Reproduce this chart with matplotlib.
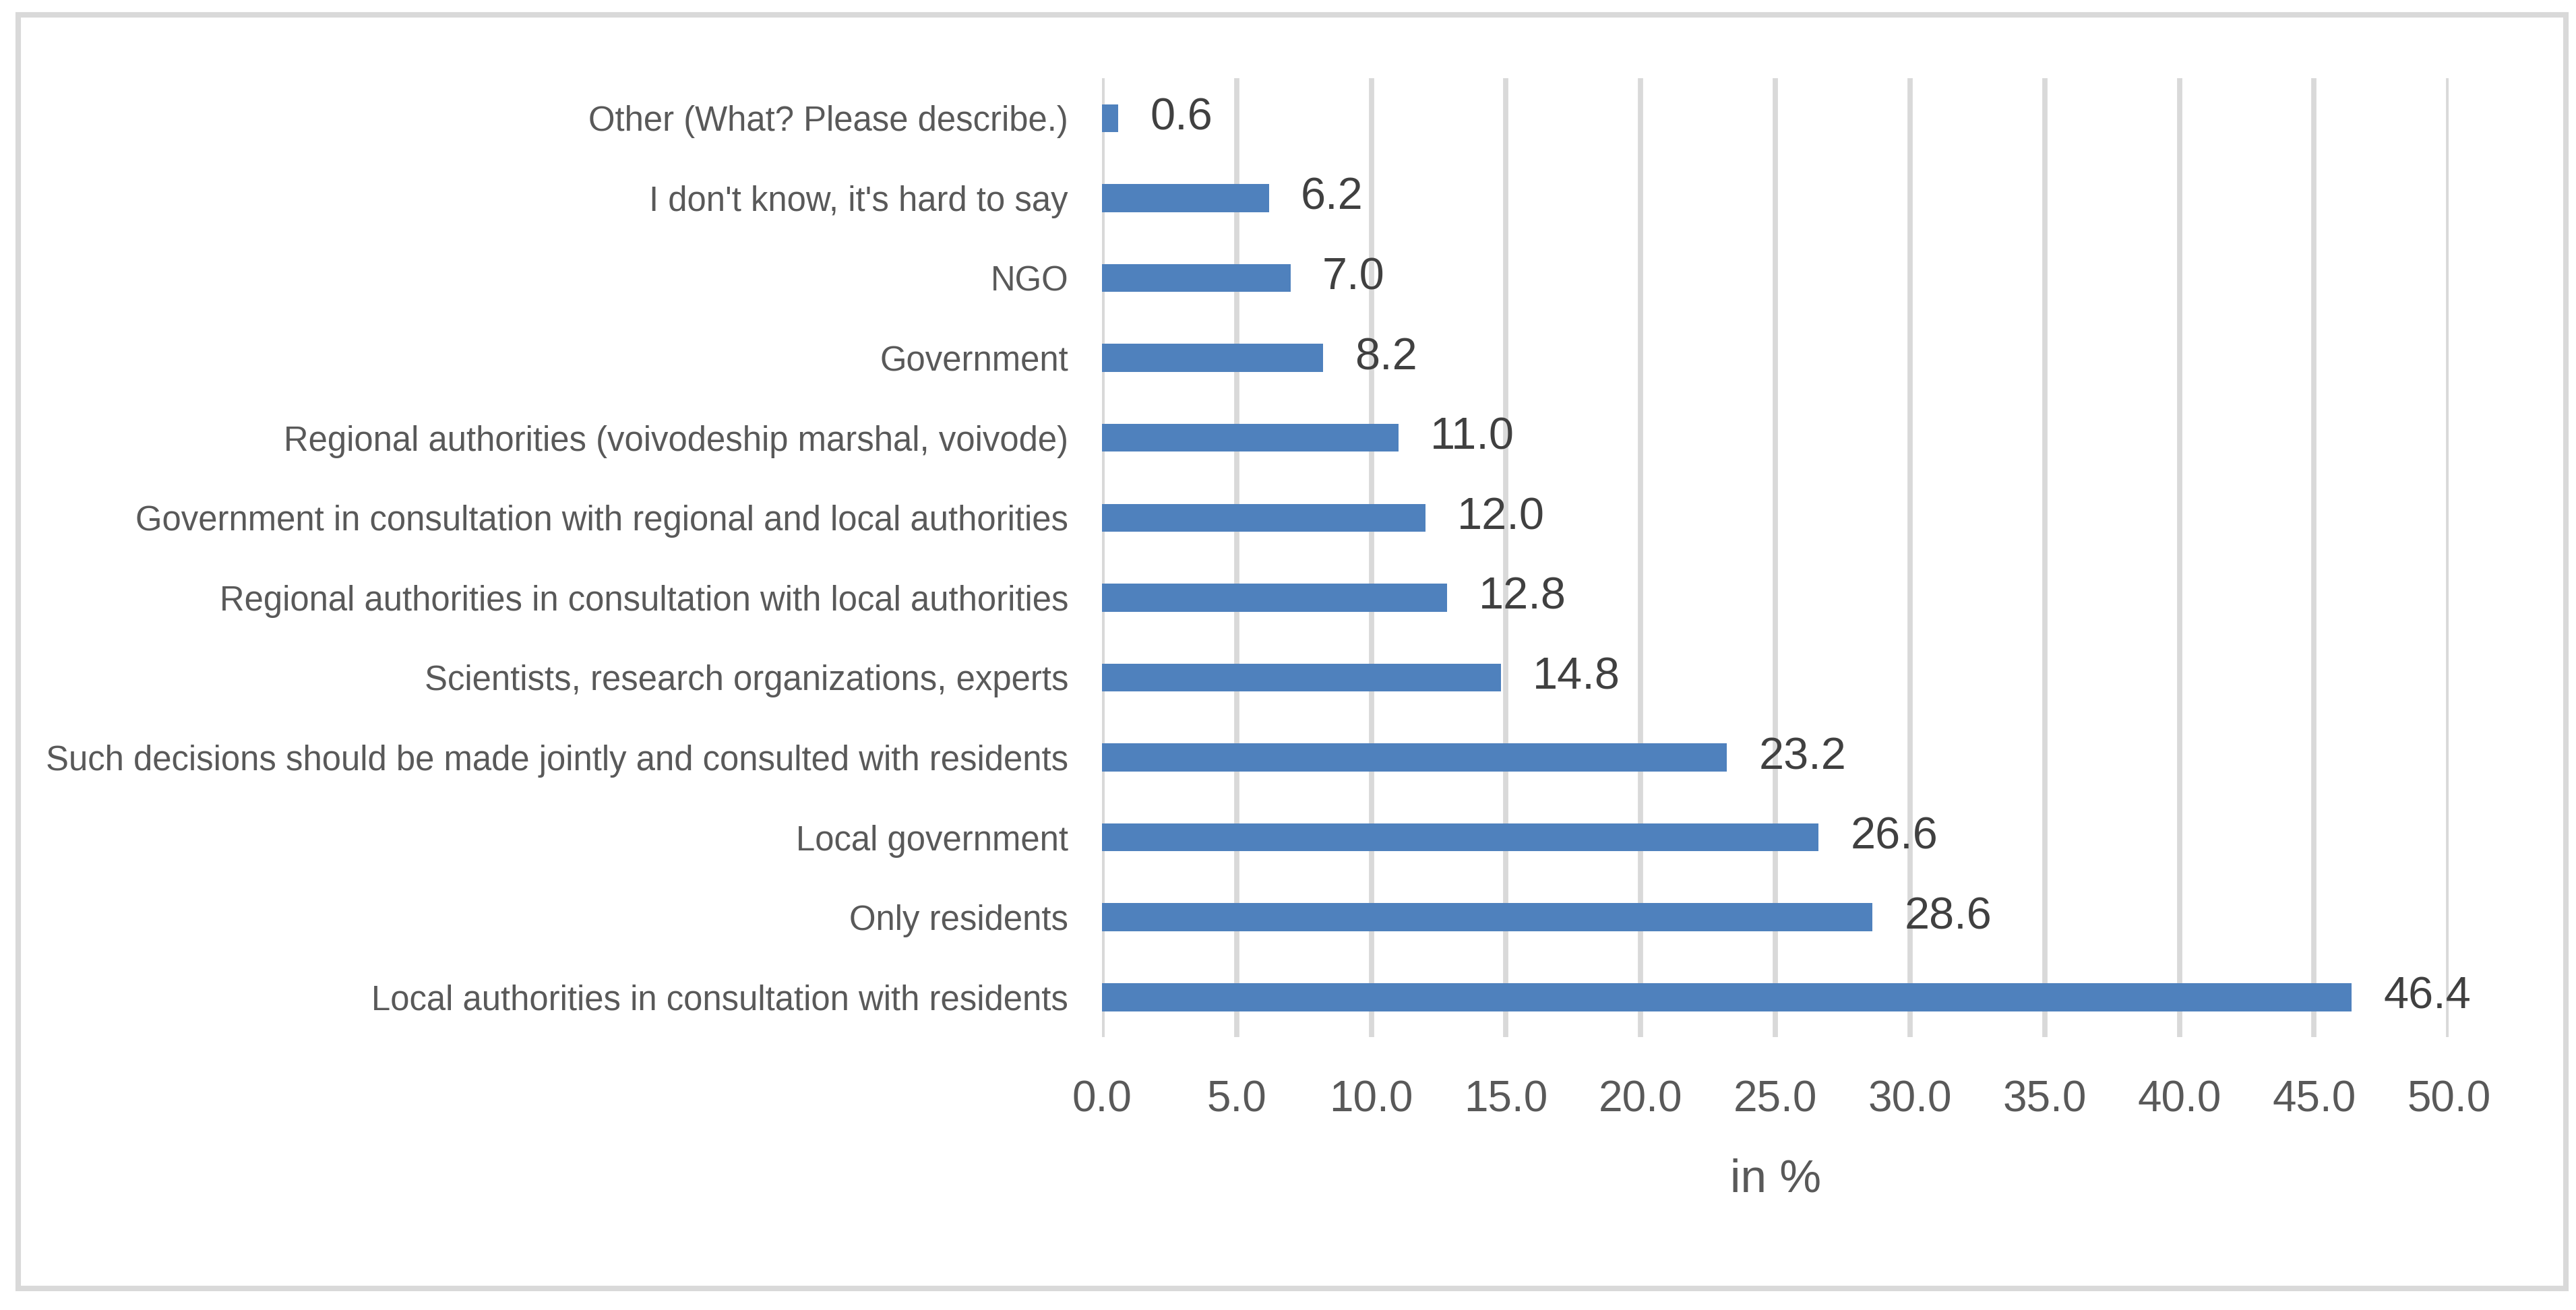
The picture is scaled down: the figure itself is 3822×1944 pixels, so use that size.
import matplotlib.pyplot as plt
from matplotlib.patches import Rectangle

categories = [
    "Local authorities in consultation with residents",
    "Only residents",
    "Local government",
    "Such decisions should be made jointly and consulted with residents",
    "Scientists, research organizations, experts",
    "Regional authorities in consultation with local authorities",
    "Government in consultation with regional and local authorities",
    "Regional authorities (voivodeship marshal, voivode)",
    "Government",
    "NGO",
    "I don't know, it's hard to say",
    "Other (What? Please describe.)",
]
values = [46.4, 28.6, 26.6, 23.2, 14.8, 12.8, 12.0, 11.0, 8.2, 7.0, 6.2, 0.6]
xticks = [0, 5, 10, 15, 20, 25, 30, 35, 40, 45, 50]

text_color = '#595959'
value_color = '#404040'
bar_color = '#4F81BD'
grid_color = '#D9D9D9'
plt.rcParams['font.family'] = ['Liberation Sans', 'DejaVu Sans']

fig = plt.figure(figsize=(19.11, 9.72), dpi=200)
ax = fig.add_axes([0.4278, 0.2083, 0.5228, 0.732])

ypos = list(range(len(categories)))
ax.barh(ypos, values, height=0.35, color=bar_color, zorder=3)
for y, v in zip(ypos, values):
    ax.annotate(f'{v:.1f}', (v, y), xytext=(17, 0), textcoords='offset points',
                va='center', ha='left', fontsize=24, color=value_color)

ax.set_xlim(0, 50)
ax.set_ylim(-0.5, len(categories) - 0.5)
ax.set_xticks(xticks)
ax.set_xticklabels([f'{t:.1f}' for t in xticks], fontsize=23, color=text_color)
ax.set_yticks(ypos)
ax.set_yticklabels(categories, fontsize=18.3, color=text_color)
ax.tick_params(length=0)
ax.tick_params(axis='x', pad=23)
ax.tick_params(axis='y', pad=18)
ax.grid(axis='x', color=grid_color, linewidth=2.8, zorder=0)
for s in ax.spines.values():
    s.set_visible(False)
ax.axvline(0, color=grid_color, linewidth=2.8, zorder=1)
ax.set_xlabel('in %', fontsize=25, color=text_color, labelpad=20)

fig.patches.append(Rectangle((0.0071, 0.0165), 0.989, 0.972, transform=fig.transFigure,
                             fill=False, edgecolor=grid_color, linewidth=2.9))

fig.savefig('out.png', dpi=200)
